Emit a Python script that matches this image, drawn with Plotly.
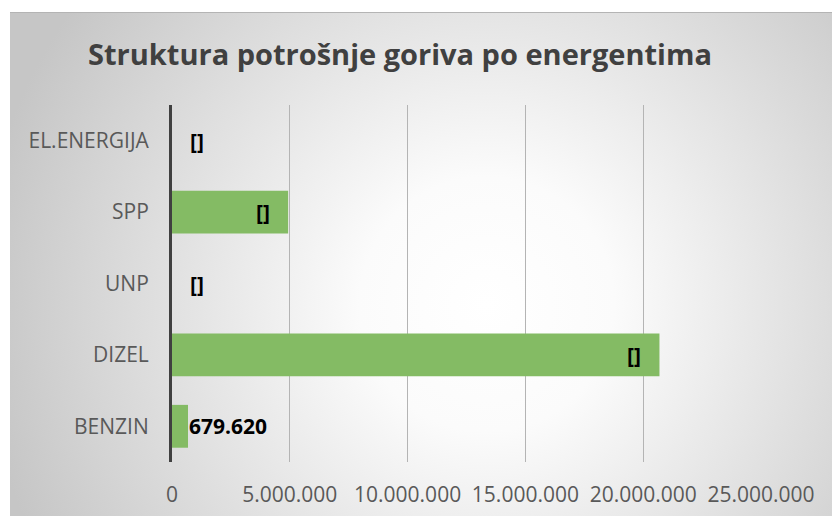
import base64
import plotly.graph_objects as go

categories = ["BENZIN", "DIZEL", "UNP", "SPP", "EL.ENERGIJA"]
values = [679620, 20690000, 0, 4930000, 0]
labels = ["679.620", "[]", "[]", "[]", "[]"]
label_inside = [False, True, False, True, False]
tick_vals = [0, 5000000, 10000000, 15000000, 20000000, 25000000]

W, H = 832, 516
L, R, T, B = 172, 71, 105, 54
pw, ph = W - L - R, H - T - B

# background radial gradient (chart area box starting at x=10, y=12)
bx, by = 10, 12
bw, bh = W - bx, H - by
svg = f'''<svg xmlns="http://www.w3.org/2000/svg" width="{bw}" height="{bh}" viewBox="0 0 {bw} {bh}" preserveAspectRatio="none">
<defs><radialGradient id="g" gradientUnits="userSpaceOnUse" cx="{bw*0.58}" cy="{bh*0.58}" r="{bw*0.62}">
<stop offset="0" stop-color="#ffffff"/><stop offset="0.25" stop-color="#fbfbfb"/><stop offset="1" stop-color="#c6c6c6"/></radialGradient></defs>
<rect x="0" y="0" width="{bw}" height="{bh}" fill="url(#g)"/>
<line x1="0" y1="0.5" x2="{bw}" y2="0.5" stroke="#b4b4b4" stroke-width="1"/>
</svg>'''
src = "data:image/svg+xml;base64," + base64.b64encode(svg.encode()).decode()

fig = go.Figure()
fig.add_trace(go.Bar(
    y=categories, x=values, orientation="h",
    marker=dict(color="rgb(132,187,100)", line=dict(width=0)),
    width=0.6, hoverinfo="skip",
))

for cat, val, lab, inside in zip(categories, values, labels, label_inside):
    if inside:
        fig.add_annotation(x=val, y=cat, text=f"<b>{lab}</b>", showarrow=False,
                           xanchor="right", xshift=-16,
                           font=dict(family="Open Sans", size=21, color="#000000"))
    else:
        fig.add_annotation(x=val, y=cat, text=f"<b>{lab}</b>", showarrow=False,
                           xanchor="left", xshift=(16 if val == 0 else -1),
                           font=dict(family="Open Sans", size=21, color="#000000"))

fig.add_layout_image(dict(
    source=src, xref="paper", yref="paper",
    x=(bx - L) / pw, y=(H - B - by) / ph,
    sizex=bw / pw, sizey=bh / ph,
    xanchor="left", yanchor="top", sizing="stretch", layer="below",
))

fig.update_layout(
    width=W, height=H,
    margin=dict(l=L, r=R, t=T, b=B, autoexpand=False),
    paper_bgcolor="#ffffff", plot_bgcolor="rgba(0,0,0,0)",
    separators=",.",
    showlegend=False,
    title=dict(text="<b>Struktura potrošnje goriva po energentima</b>",
               x=(400 - L) / pw, xref="paper", xanchor="center",
               y=1 - 55 / H, yref="container", yanchor="middle",
               font=dict(family="Open Sans", size=29, color="#404040")),
    xaxis=dict(range=[0, 25000000], tickvals=tick_vals, tickformat=",d",
               showgrid=True, gridcolor="#b4b4b4", gridwidth=1,
               zeroline=False, showline=False, ticks="outside", ticklen=14,
               tickcolor="rgba(0,0,0,0)", automargin=False,
               tickfont=dict(family="Open Sans", size=21, color="#595959"),
               fixedrange=True),
    yaxis=dict(categoryorder="array", categoryarray=categories,
               showline=True, linecolor="#404040", linewidth=3,
               showgrid=False, ticks="outside", ticklen=16,
               tickcolor="rgba(0,0,0,0)", automargin=False,
               tickfont=dict(family="Open Sans", size=21, color="#595959"),
               fixedrange=True),
    bargap=0.4,
)

fig.write_html("out.html",
               config={"displayModeBar": False, "staticPlot": True},
               post_script="document.body.style.margin='0';document.body.style.padding='0';document.body.style.overflow='hidden';")
